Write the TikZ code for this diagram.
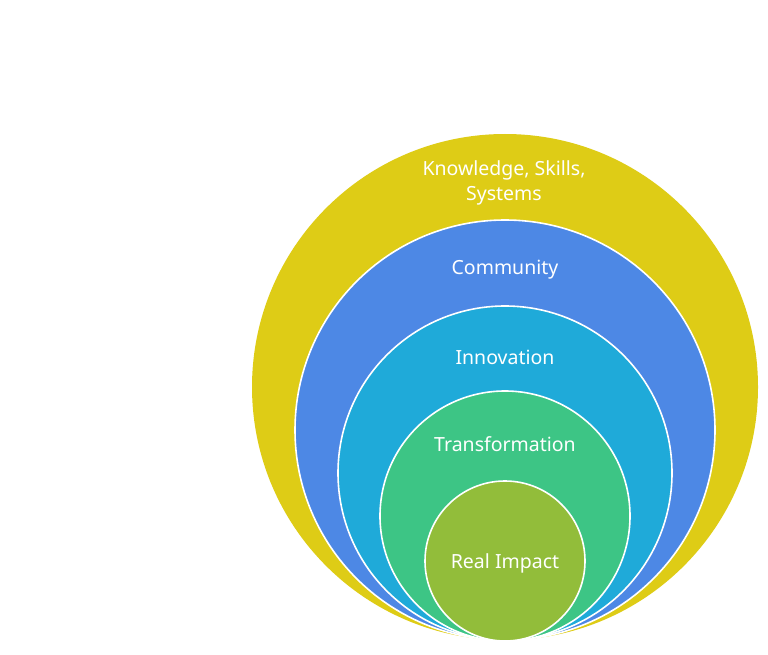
\documentclass[tikz,border=0pt]{standalone}
\usepackage{fontspec}
\setmainfont{Noto Sans}
\definecolor{cyellow}{HTML}{DECC16}
\definecolor{cblue}{HTML}{4D88E5}
\definecolor{ccyan}{HTML}{1FAAD9}
\definecolor{cgreen}{HTML}{3DC585}
\definecolor{colive}{HTML}{92BD3A}
\tikzset{
  ring/.style={circle, inner sep=0pt, draw=white, line width=1.6pt},
  lbl/.style={text=white, font=\fontsize{19.5}{25}\selectfont, align=center, inner sep=0pt}
}
\begin{document}
\begin{tikzpicture}[x=1pt,y=-1pt]
\useasboundingbox (0,0) rectangle (768,655);
\node[circle, inner sep=0pt, fill=cyellow, minimum size=506pt] (outer) at (505,387) {};
\node[ring, fill=cblue, minimum size=420pt] (comm) at (505,430) {};
\node[ring, fill=ccyan, minimum size=334pt] (innov) at (505,473) {};
\node[ring, fill=cgreen, minimum size=250pt] (trans) at (505,516) {};
\node[ring, fill=colive, minimum size=160pt] (real) at (505,561) {};
\node[lbl] (t1) at (504,183) {Knowledge, Skills,\\Systems};
\node[lbl] (t2) at (505,270) {Community};
\node[lbl] (t3) at (505,357) {Innovation};
\node[lbl] (t4) at (505,444) {Transformation};
\node[lbl] (t5) at (505,563) {Real Impact};
\end{tikzpicture}
\end{document}
